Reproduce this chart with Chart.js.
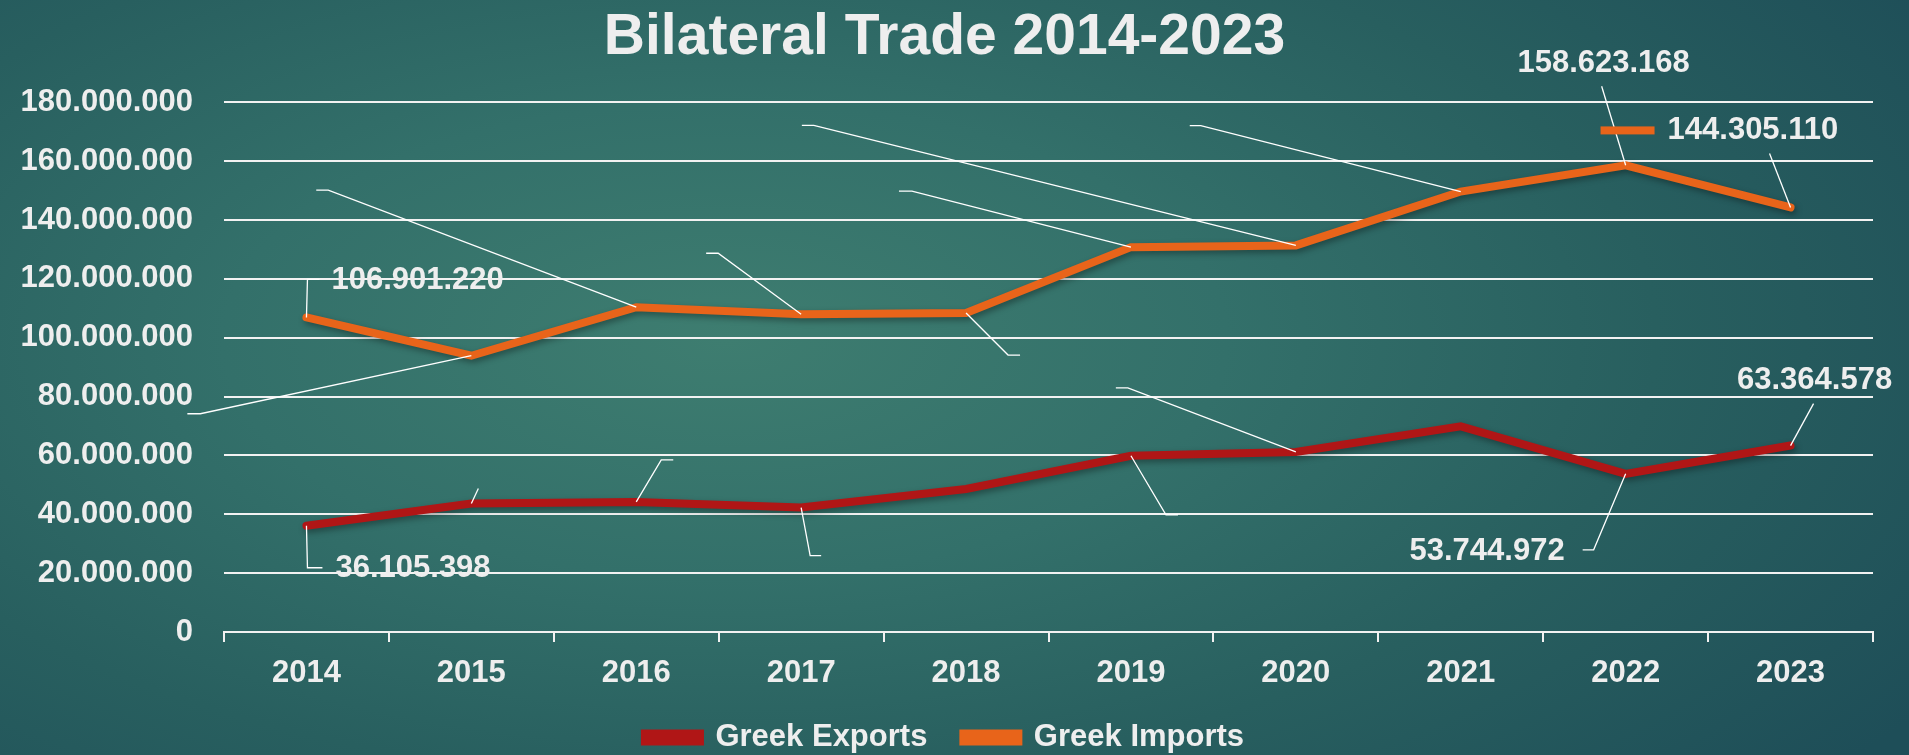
<!DOCTYPE html>
<html>
<head>
<meta charset="utf-8">
<script src="https://cdn.jsdelivr.net/npm/chart.js@4.4.1/dist/chart.umd.min.js"></script>
<style>
    html, body { margin: 0; padding: 0; }
    body {
        width: 1909px; height: 755px; overflow: hidden;
        background: radial-gradient(ellipse 75% 90% at 38% 45%, #3e7d70 0%, #33706a 35%, #285f5f 65%, #1e4e58 100%);
    }
    #wrap { width: 1909px; height: 763px; position: relative; }
</style>
</head>
<body>
<div id="wrap"><canvas id="tradeChart"></canvas></div>
<script>
// Data
const years = ['2014', '2015', '2016', '2017', '2018', '2019', '2020', '2021', '2022', '2023'];
const greekExports = [36105398, 43700000, 44200000, 42300000, 48600000, 59900000, 61200000, 69900000, 53744972, 63364578];
const greekImports = [106901220, 93900000, 110400000, 108000000, 108400000, 130800000, 131400000, 149700000, 158623168, 144305110];
const yTicks = [0, 20000000, 40000000, 60000000, 80000000, 100000000, 120000000, 140000000, 160000000, 180000000];

// Which values get a visible label (the others only show their leader line)
const exportsLabelShown = [true, false, false, false, false, false, false, false, true, true];
const importsLabelShown = [true, false, false, false, false, false, false, false, true, true];

// Leader line layout: [dx, dy, tick] relative to the point, null = no leader
const exportsLeaders = [[1, 42, 15], [7, -15, 0], [25, -42, 12], [9, 48, 11], null, [35, 59, 12], [-168, -64, -12], null, [-32, 76, -11], [23, -42, 0]];
const importsLeaders = [[1, -38, 12], [-271, 58, -13], [-308, -117, -12], [-83, -61, -12], [42, 42, 12], [-219, -56, -13], [-482, -120, -12], [-260, -66, -11], [-24, -79, 0], [-21, -54, 0]];
// label anchor relative to leader end: [dx, dy, align]
const exportsLabelPos = [[28, 1, 'left'], null, null, null, null, null, null, null, [-29, 2, 'right'], [1, -23, 'center']];
const importsLabelPos = [[24, 1, 'left'], null, null, null, null, null, null, null, [2, -23, 'center'], [-51, -23, 'key']];

const FONT = '"Liberation Sans", Arial, sans-serif';
const TEXT = '#eeeeee';
const EXPORT_COLOR = '#b01616';
const IMPORT_COLOR = '#e8641a';

function fmt(v) {
    return v.toString().replace(/\B(?=(\d{3})+(?!\d))/g, '.');
}

// draw a soft shadow under the lines
const shadowPlugin = {
    id: 'lineShadow',
    beforeDatasetDraw(chart) {
        const ctx = chart.ctx;
        ctx.save();
        ctx.shadowColor = 'rgba(0,0,0,0.35)';
        ctx.shadowBlur = 6;
        ctx.shadowOffsetX = 2;
        ctx.shadowOffsetY = 3;
    },
    afterDatasetDraw(chart) {
        chart.ctx.restore();
    }
};

// leader lines and data labels
const labelPlugin = {
    id: 'leaderLabels',
    afterDatasetsDraw(chart) {
        const ctx = chart.ctx;
        const sets = [
            { leaders: exportsLeaders, pos: exportsLabelPos, shown: exportsLabelShown, data: greekExports, color: EXPORT_COLOR },
            { leaders: importsLeaders, pos: importsLabelPos, shown: importsLabelShown, data: greekImports, color: IMPORT_COLOR }
        ];
        ctx.save();
        sets.forEach(function(s, di) {
            const meta = chart.getDatasetMeta(di);
            meta.data.forEach(function(pt, i) {
                const ld = s.leaders[i];
                if (!ld) return;
                const ex = pt.x + ld[0];
                const ey = pt.y + ld[1];
                ctx.strokeStyle = '#ffffff';
                ctx.lineWidth = 1.3;
                ctx.beginPath();
                ctx.moveTo(pt.x, pt.y);
                ctx.lineTo(ex, ey);
                if (ld[2]) ctx.lineTo(ex + ld[2], ey);
                ctx.stroke();
                if (!s.shown[i] || !s.pos[i]) return;
                const p = s.pos[i];
                ctx.font = 'bold 31px ' + FONT;
                ctx.fillStyle = TEXT;
                ctx.textBaseline = 'middle';
                const lx = ex + p[0];
                const ly = ey + p[1];
                if (p[2] === 'key') {
                    ctx.fillStyle = s.color;
                    ctx.fillRect(lx - 118, ly - 4, 54, 8);
                    ctx.fillStyle = TEXT;
                    ctx.textAlign = 'left';
                    ctx.fillText(fmt(s.data[i]), lx - 51, ly);
                } else {
                    ctx.textAlign = p[2];
                    ctx.fillText(fmt(s.data[i]), lx, ly);
                }
            });
        });
        ctx.restore();
    }
};

const canvas = document.getElementById('tradeChart');
const chart = new Chart(canvas.getContext('2d'), {
    type: 'line',
    data: {
        labels: years,
        datasets: [{
            label: 'Greek Exports',
            data: greekExports,
            borderColor: EXPORT_COLOR,
            backgroundColor: EXPORT_COLOR,
            borderWidth: 8,
            pointRadius: 0,
            tension: 0,
            borderCapStyle: 'round',
            borderJoinStyle: 'miter'
        }, {
            label: 'Greek Imports',
            data: greekImports,
            borderColor: IMPORT_COLOR,
            backgroundColor: IMPORT_COLOR,
            borderWidth: 8,
            pointRadius: 0,
            tension: 0,
            borderCapStyle: 'round',
            borderJoinStyle: 'miter'
        }]
    },
    options: {
        responsive: true,
        maintainAspectRatio: false,
        animation: false,
        layout: { padding: { left: 16, right: 36, top: 0, bottom: 0 } },
        plugins: {
            title: {
                display: true,
                text: 'Bilateral Trade 2014-2023',
                color: TEXT,
                font: { family: FONT, size: 57, weight: 'bold', lineHeight: 1.2 },
                padding: { top: 4, bottom: 30 }
            },
            legend: {
                position: 'bottom',
                labels: {
                    color: TEXT,
                    font: { family: FONT, size: 31, weight: 'bold' },
                    boxWidth: 55,
                    boxHeight: 8,
                    padding: 36
                }
            },
            tooltip: { enabled: false }
        },
        scales: {
            x: {
                offset: true,
                grid: {
                    display: true,
                    drawOnChartArea: false,
                    drawTicks: true,
                    tickLength: 10,
                    color: '#f2f2f2',
                    lineWidth: 2,
                    offset: true
                },
                border: { display: true, color: '#f2f2f2', width: 2 },
                ticks: {
                    color: TEXT,
                    font: { family: FONT, size: 31, weight: 'bold' },
                    padding: 13
                },
                afterFit(scale) { scale.height = 54; }
            },
            y: {
                min: 0,
                max: 180000000,
                afterBuildTicks(scale) {
                    scale.ticks = yTicks.map(function(v) { return { value: v }; });
                },
                grid: {
                    color: '#f2f2f2',
                    lineWidth: 2,
                    drawTicks: false
                },
                border: { display: false },
                ticks: {
                    color: TEXT,
                    font: { family: FONT, size: 31, weight: 'bold' },
                    padding: 31,
                    callback: function(v) { return fmt(v); }
                },
                afterFit(scale) { scale.width = 208; }
            }
        }
    },
    plugins: [shadowPlugin, labelPlugin]
});
</script>
</body>
</html>
